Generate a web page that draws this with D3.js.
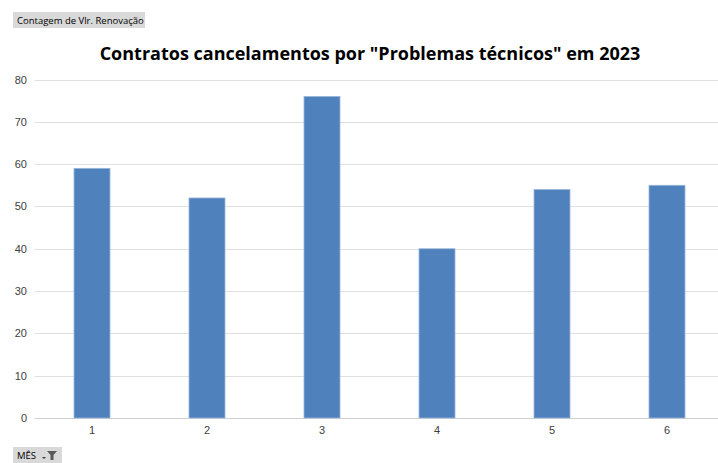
<!DOCTYPE html>
<html>
<head>
<meta charset="utf-8">
<script src="https://cdn.jsdelivr.net/npm/d3@7"></script>
<style>
  body { margin: 0; background: #fff; }
  svg { display: block; font-family: "Open Sans", "DejaVu Sans", sans-serif; }
</style>
</head>
<body>
<div id="chart"></div>
<script>
var months = ["1", "2", "3", "4", "5", "6"];
var counts = [59, 52, 76, 40, 54, 55];
var yTicks = [0, 10, 20, 30, 40, 50, 60, 70, 80];

var width = 718, height = 463,
  margin = {top: 79.5, right: -6.5, bottom: 45, left: 34.5};

var svg = d3.select("#chart").append("svg")
  .attr("width", width)
  .attr("height", height);

var x = d3.scaleBand()
  .domain(months)
  .range([margin.left, width - margin.right])
  .paddingInner(0.687)
  .paddingOuter(0.3435);

var y = d3.scaleLinear()
  .domain([0, 80])
  .range([height - margin.bottom, margin.top]);

// gridlines
svg.append("g")
  .selectAll("line")
  .data(yTicks)
  .enter().append("line")
    .attr("x1", margin.left)
    .attr("x2", width)
    .attr("y1", function (d) { return Math.round(y(d)) + 0.5; })
    .attr("y2", function (d) { return Math.round(y(d)) + 0.5; })
    .style("stroke", function (d) { return d === 0 ? "#d0d0d0" : "#e0e0e0"; })
    .style("stroke-width", 1);

// y labels
var yAxis = d3.axisLeft(y).tickValues(yTicks).tickSize(0).tickPadding(0);
svg.append("g")
  .attr("transform", "translate(" + 27 + ",0)")
  .call(yAxis)
  .call(function (g) { g.select(".domain").remove(); })
  .selectAll("text")
    .style("font-size", "11px")
    .style("fill", "#404040")
    .attr("font-family", null);

// bars
svg.append("g")
  .selectAll("rect")
  .data(counts)
  .enter().append("rect")
    .attr("x", function (d, i) { return x(months[i]); })
    .attr("width", x.bandwidth())
    .attr("y", function (d) { return y(d); })
    .attr("height", function (d) { return y(0) - y(d); })
    .style("fill", "#4f81bd")
    .style("stroke", "#9ab7dc")
    .style("stroke-width", 0.8);

// x labels
var xAxis = d3.axisBottom(x).tickSize(0).tickPadding(8);
svg.append("g")
  .attr("transform", "translate(0," + y(0) + ")")
  .call(xAxis)
  .call(function (g) { g.select(".domain").remove(); })
  .selectAll("text")
    .style("font-size", "11px")
    .style("fill", "#404040")
    .attr("font-family", null);

// title
svg.append("text")
  .attr("x", 370)
  .attr("y", 60)
  .attr("text-anchor", "middle")
  .style("font-size", "18px")
  .style("font-weight", "bold")
  .style("fill", "#000")
  .text("Contratos cancelamentos por \"Problemas técnicos\" em 2023");

// field button top left
var btn = svg.append("g").attr("transform", "translate(13,12)");
btn.append("rect")
  .attr("width", 132).attr("height", 16)
  .style("fill", "#d9d9d9");
btn.append("text")
  .attr("x", 4).attr("y", 12)
  .style("font-size", "9.5px")
  .style("fill", "#000")
  .text("Contagem de Vlr. Renovação");

// field button bottom left
var mes = svg.append("g").attr("transform", "translate(13,447)");
mes.append("rect")
  .attr("width", 49).attr("height", 16)
  .style("fill", "#d9d9d9");
mes.append("text")
  .attr("x", 4).attr("y", 12)
  .style("font-size", "9.5px")
  .style("fill", "#000")
  .text("MÊS");
mes.append("path")
  .attr("d", "M29,10 h4 l-2,2 z")
  .style("fill", "#404040");
mes.append("path")
  .attr("d", "M34,4 h10 l-3.5,4 v5 h-3 v-5 z")
  .style("fill", "#595959");
</script>
</body>
</html>
